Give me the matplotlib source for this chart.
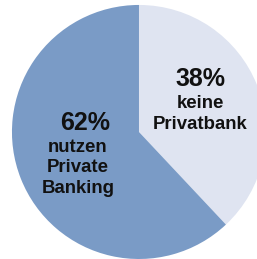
import matplotlib
matplotlib.use("Agg")
import matplotlib.pyplot as plt

shares = [38, 62]
labels = ["keine\nPrivatbank", "nutzen\nPrivate\nBanking"]
colors = ["#dfe4f1", "#7a9bc6"]

fig = plt.figure(figsize=(2.57, 2.59), dpi=100)
ax = fig.add_axes([0, 0, 1, 1])
ax.pie(shares, colors=colors, startangle=90, counterclock=False,
       radius=1, wedgeprops=dict(linewidth=0))
ax.set_xlim(-1.094, 0.929)
ax.set_ylim(-1.0, 1.039)
ax.set_aspect("equal")
ax.axis("off")

def px(x, y):
    return (x - 139) / 127, (132 - y) / 127

font = dict(family=["Liberation Sans", "DejaVu Sans"], weight="bold",
            color="#111111", ha="center", va="center")

# 38% slice
ax.text(*px(200, 79), f"{shares[0]}%", fontsize=18, **font)
ax.text(*px(200, 114), labels[0], fontsize=13.4, linespacing=1.3, **font)

# 62% slice
ax.text(*px(85, 123), f"{shares[1]}%", fontsize=18, **font)
ax.text(*px(78, 168), labels[1], fontsize=13.4, linespacing=1.3, **font)

fig.savefig("out.png", dpi=100)
